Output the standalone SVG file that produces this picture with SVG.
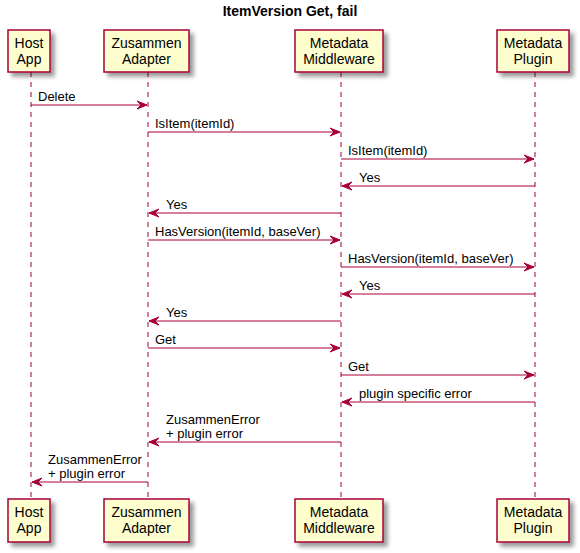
<svg xmlns="http://www.w3.org/2000/svg" width="580" height="553" viewBox="0 0 580 553">
<defs>
<filter id="sh" x="-20%" y="-20%" width="150%" height="150%">
<feGaussianBlur in="SourceAlpha" stdDeviation="2"/>
<feOffset dx="4" dy="4" result="b"/>
<feComponentTransfer><feFuncA type="linear" slope="0.4"/></feComponentTransfer>
<feMerge><feMergeNode/><feMergeNode in="SourceGraphic"/></feMerge>
</filter>
</defs>
<style>
.box{fill:#FEFECE;stroke:#A80036;stroke-width:1.5;filter:url(#sh)}
.life{stroke:#A80036;stroke-width:1;stroke-dasharray:5,5;fill:none}
.msg{stroke:#A80036;stroke-width:1;fill:none}
.ah{fill:#A80036;stroke:#A80036}
.pt{font-family:"Liberation Sans",Arial,sans-serif;font-size:14px;fill:#000;text-anchor:middle}
.ml{font-family:"Liberation Sans",Arial,sans-serif;font-size:13px;fill:#000}
.title{font-family:"Liberation Sans",Arial,sans-serif;font-size:14px;font-weight:bold;fill:#000;text-anchor:middle}
</style>
<rect width="580" height="553" fill="#FFFFFF"/>
<text class="title" x="290" y="16">ItemVersion Get, fail</text>
<g id="lifelines">
<line class="life" x1="31" y1="72" x2="31" y2="499"/>
<line class="life" x1="148" y1="72" x2="148" y2="499"/>
<line class="life" x1="341" y1="72" x2="341" y2="499"/>
<line class="life" x1="535" y1="72" x2="535" y2="499"/>
</g>
<g id="host">
<rect class="box" x="8" y="30" width="42" height="42"/>
<text class="pt" x="29" y="48">Host</text><text class="pt" x="29" y="64">App</text>
<rect class="box" x="8" y="499" width="42" height="43"/>
<text class="pt" x="29" y="517">Host</text><text class="pt" x="29" y="533">App</text>
</g>
<g id="adapter">
<rect class="box" x="104" y="30" width="85" height="42"/>
<text class="pt" x="146.5" y="48">Zusammen</text><text class="pt" x="146.5" y="64">Adapter</text>
<rect class="box" x="104" y="499" width="85" height="43"/>
<text class="pt" x="146.5" y="517">Zusammen</text><text class="pt" x="146.5" y="533">Adapter</text>
</g>
<g id="middleware">
<rect class="box" x="295" y="30" width="88" height="42"/>
<text class="pt" x="339" y="48">Metadata</text><text class="pt" x="339" y="64">Middleware</text>
<rect class="box" x="295" y="499" width="88" height="43"/>
<text class="pt" x="339" y="517">Metadata</text><text class="pt" x="339" y="533">Middleware</text>
</g>
<g id="plugin">
<rect class="box" x="497" y="30" width="72" height="42"/>
<text class="pt" x="533" y="48">Metadata</text><text class="pt" x="533" y="64">Plugin</text>
<rect class="box" x="497" y="499" width="72" height="43"/>
<text class="pt" x="533" y="517">Metadata</text><text class="pt" x="533" y="533">Plugin</text>
</g>
<g id="connectors">
<line class="msg" x1="31" y1="105" x2="147" y2="105"/><polygon class="ah" points="137,101 147,105 137,109 141,105"/>
<text class="ml" x="38" y="101">Delete</text>
<line class="msg" x1="148" y1="132" x2="340" y2="132"/><polygon class="ah" points="330,128 340,132 330,136 334,132"/>
<text class="ml" x="155" y="128">IsItem(itemId)</text>
<line class="msg" x1="341" y1="159" x2="534" y2="159"/><polygon class="ah" points="524,155 534,159 524,163 528,159"/>
<text class="ml" x="348" y="155">IsItem(itemId)</text>
<line class="msg" x1="342" y1="186" x2="535" y2="186"/><polygon class="ah" points="352,182 342,186 352,190 348,186"/>
<text class="ml" x="359" y="182">Yes</text>
<line class="msg" x1="149" y1="213" x2="341" y2="213"/><polygon class="ah" points="159,209 149,213 159,217 155,213"/>
<text class="ml" x="166" y="209">Yes</text>
<line class="msg" x1="148" y1="240" x2="340" y2="240"/><polygon class="ah" points="330,236 340,240 330,244 334,240"/>
<text class="ml" x="155" y="236">HasVersion(itemId, baseVer)</text>
<line class="msg" x1="341" y1="267" x2="534" y2="267"/><polygon class="ah" points="524,263 534,267 524,271 528,267"/>
<text class="ml" x="348" y="263">HasVersion(itemId, baseVer)</text>
<line class="msg" x1="342" y1="294" x2="535" y2="294"/><polygon class="ah" points="352,290 342,294 352,298 348,294"/>
<text class="ml" x="359" y="290">Yes</text>
<line class="msg" x1="149" y1="321" x2="341" y2="321"/><polygon class="ah" points="159,317 149,321 159,325 155,321"/>
<text class="ml" x="166" y="317">Yes</text>
<line class="msg" x1="148" y1="348" x2="340" y2="348"/><polygon class="ah" points="330,344 340,348 330,352 334,348"/>
<text class="ml" x="155" y="344">Get</text>
<line class="msg" x1="341" y1="375" x2="534" y2="375"/><polygon class="ah" points="524,371 534,375 524,379 528,375"/>
<text class="ml" x="348" y="371">Get</text>
<line class="msg" x1="342" y1="402" x2="535" y2="402"/><polygon class="ah" points="352,398 342,402 352,406 348,402"/>
<text class="ml" x="359" y="398">plugin specific error</text>
<line class="msg" x1="149" y1="442" x2="341" y2="442"/><polygon class="ah" points="159,438 149,442 159,446 155,442"/>
<text class="ml" x="166" y="424">ZusammenError</text><text class="ml" x="166" y="438">+ plugin error</text>
<line class="msg" x1="32" y1="482" x2="148" y2="482"/><polygon class="ah" points="42,478 32,482 42,486 38,482"/>
<text class="ml" x="48" y="464">ZusammenError</text><text class="ml" x="48" y="478">+ plugin error</text>
</g>
</svg>
